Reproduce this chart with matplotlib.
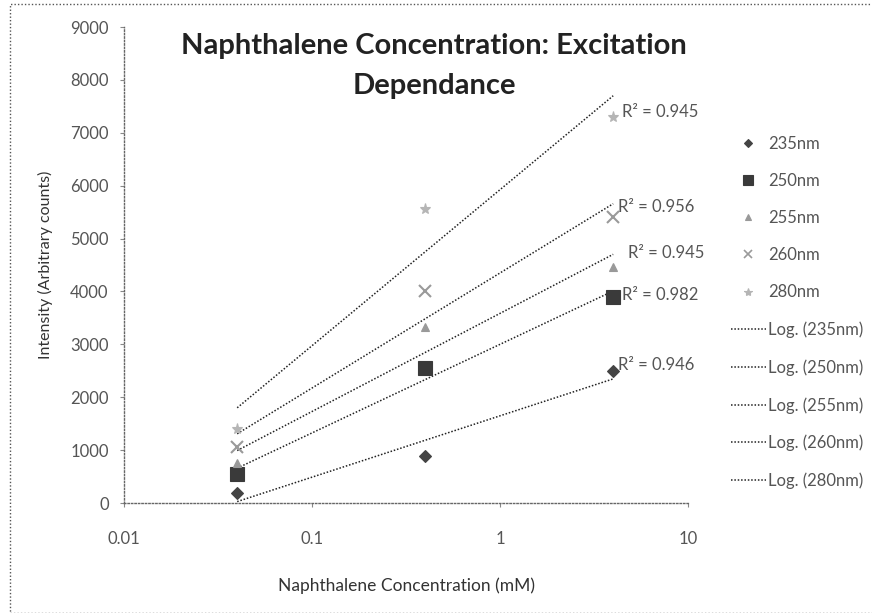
import numpy as np
import matplotlib
matplotlib.use("Agg")
import matplotlib.pyplot as plt
from matplotlib.lines import Line2D
from matplotlib.patches import Rectangle

plt.rcParams['font.family'] = ['Lato', 'DejaVu Sans']

conc = [0.04, 0.4, 4.0]
series = ["235nm", "250nm", "255nm", "260nm", "280nm"]
v235 = [180, 880, 2500]
v250 = [550, 2550, 3900]
v255 = [750, 3330, 4460]
v260 = [1050, 4000, 5400]
v280 = [1400, 5550, 7300]
values = [v235, v250, v255, v260, v280]
r2_labels = ["R² = 0.946", "R² = 0.982", "R² = 0.945", "R² = 0.956", "R² = 0.945"]
r2_offsets = [(5, 6), (9, 2), (15, 14), (5, 10), (9, 5)]
x_ticks = [0.01, 0.1, 1, 10]
x_tick_labels = ["0.01", "0.1", "1", "10"]
y_ticks = list(range(0, 9001, 1000))

markers = ["D", "s", "^", "x", "*"]
msizes = [6, 10, 6, 8, 8]
mcolors = ["#444444", "#3a3a3a", "#999999", "#9a9a9a", "#b5b5b5"]

fig = plt.figure(figsize=(8.72, 6.13), dpi=100)
ax = fig.add_axes([124/872, 1-503/613, (688-124)/872, (503-27)/613])
ax.set_xscale('log')
ax.set_xlim(0.01, 10)
ax.set_ylim(0, 9000)

handles_pts = []
handles_fit = []
xfit = np.array([min(conc), max(conc)])
for name, vals, m, ms, c, lab, off in zip(series, values, markers, msizes, mcolors, r2_labels, r2_offsets):
    lx = np.log(conc)
    b, a = np.polyfit(lx, vals, 1)
    yfit = a + b*np.log(xfit)
    ax.plot(xfit, yfit, linestyle=(0, (1, 1.2)), color="#222222", lw=1.1, zorder=2)
    ax.plot(conc, vals, linestyle='none', marker=m, ms=ms, color=c,
            markeredgecolor=c, mew=1.5 if m == 'x' else 0.8, zorder=3)
    ax.annotate(lab, xy=(conc[-1], vals[-1]), xytext=(off[0], off[1]),
                textcoords='offset pixels', fontsize=12, color="#555555",
                ha='left', va='center')
    handles_pts.append(Line2D([], [], linestyle='none', marker=m, ms=ms*0.75,
                              color=c, mew=1.2 if m == 'x' else 0.8))
    handles_fit.append(Line2D([], [], linestyle=(0, (1, 1.2)), color="#222222", lw=1.1))

labels = series + ["Log. (" + s + ")" for s in series]
leg = fig.legend(handles_pts + handles_fit, labels, loc='upper left',
                 bbox_to_anchor=(724/872, 1-129/613), frameon=False,
                 fontsize=12, labelspacing=1.27, handlelength=2.1,
                 handletextpad=0.15, borderaxespad=0)
for t in leg.get_texts():
    t.set_color("#555555")

for side in ['top', 'right']:
    ax.spines[side].set_visible(False)
for side in ['left', 'bottom']:
    ax.spines[side].set_linestyle((0, (1, 1.5)))
    ax.spines[side].set_color("#666666")
    ax.spines[side].set_linewidth(1.0)

ax.set_xticks(x_ticks)
ax.set_xticklabels(x_tick_labels)
ax.minorticks_off()
ax.set_yticks(y_ticks)
ax.tick_params(axis='both', labelsize=12, labelcolor="#555555", color="#888888",
               length=3, width=0.8)
ax.tick_params(axis='x', pad=17)
ax.tick_params(axis='y', pad=8)

ax.set_xlabel("Naphthalene Concentration (mM)", fontsize=12.5, color="#333333", labelpad=22)
ax.set_ylabel("Intensity (Arbitrary counts)", fontsize=11.5, color="#333333", va='center')
ax.yaxis.set_label_coords((45-124)/564, 0.5)

fig.text(434/872, 1-66/613, "Naphthalene Concentration: Excitation\nDependance",
         ha='center', va='center', fontsize=21, fontweight='bold',
         color="#222222", linespacing=1.7)

fig.patches.append(Rectangle((10/872, 0), 1.0, 1-4/613, transform=fig.transFigure,
                             fill=False, edgecolor="#555555", linestyle=(0, (1, 1.5)),
                             lw=1.0, clip_on=False))

fig.savefig("out.png", dpi=100)
